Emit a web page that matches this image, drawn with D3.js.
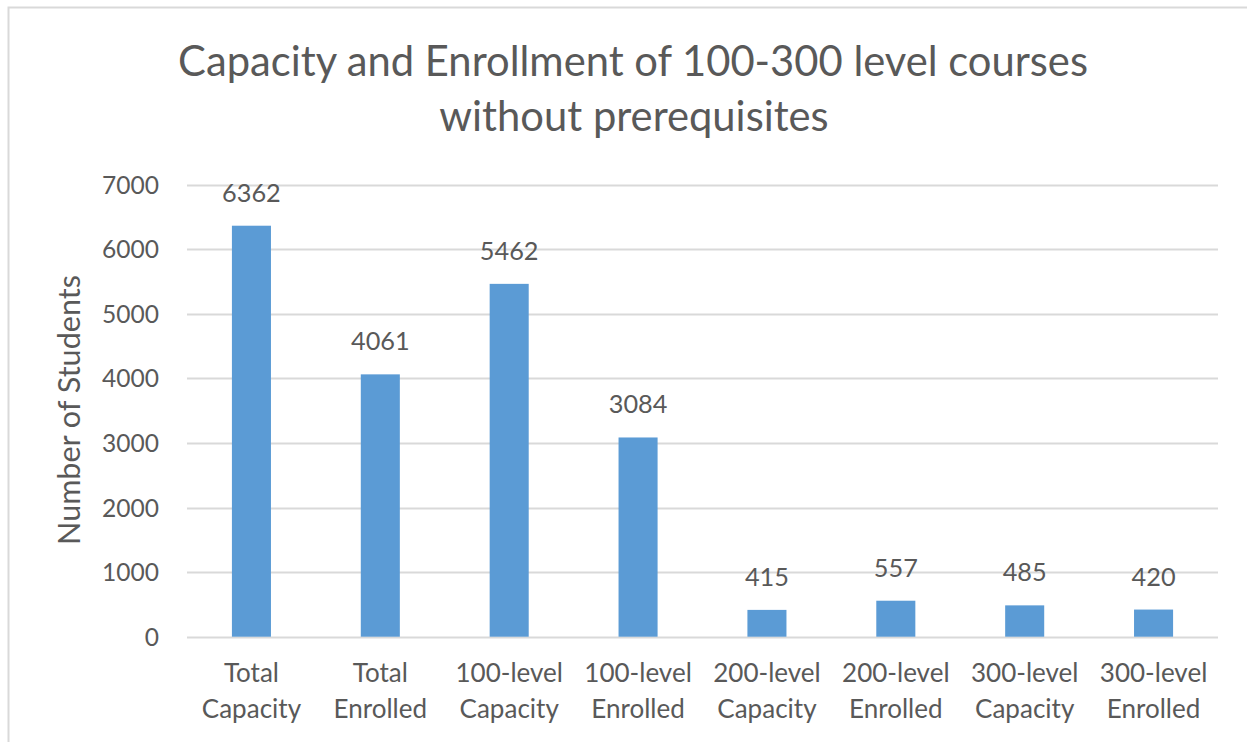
<!DOCTYPE html>
<html><head><meta charset="utf-8">
<script src="https://cdn.jsdelivr.net/npm/d3@7"></script>
<style>body{margin:0;background:#fff}svg{display:block}text{font-family:Lato,"Open Sans",sans-serif;fill:#595959}</style>
</head><body>
<script>
const categories = [["Total","Capacity"],["Total","Enrolled"],["100-level","Capacity"],["100-level","Enrolled"],["200-level","Capacity"],["200-level","Enrolled"],["300-level","Capacity"],["300-level","Enrolled"]];
const values = [6362, 4061, 5462, 3084, 415, 557, 485, 420];
const yTicks = [0, 1000, 2000, 3000, 4000, 5000, 6000, 7000];
const titleLines = ["Capacity and Enrollment of 100-300 level courses", "without prerequisites"];
const yTitle = "Number of Students";

const W = 1247, H = 742;
const svg = d3.select("body").append("svg").attr("width", W).attr("height", H);
svg.append("rect").attr("x", 8.5).attr("y", 7.5).attr("width", 1400).attr("height", 900)
  .attr("fill", "none").attr("stroke", "#d9d9d9").attr("stroke-width", 2);

const x = d3.scaleBand().domain(categories.map((d,i)=>i)).range([187, 1218]).paddingInner(0.697).paddingOuter(0.3485);
const y = d3.scaleLinear().domain([0, 7000]).range([636.7, 184.5]);

function fit(sel, target) {
  const w = sel.node().getComputedTextLength();
  const fs = parseFloat(sel.attr("font-size"));
  sel.attr("font-size", fs * target / w);
}

const grid = svg.append("g");
grid.selectAll("line").data(yTicks).join("line")
  .attr("x1", 187).attr("x2", 1218)
  .attr("y1", d => Math.round(y(d)) + 0.5).attr("y2", d => Math.round(y(d)) + 0.5)
  .attr("stroke", "#d9d9d9").attr("stroke-width", 2);

const yAxis = svg.append("g").attr("transform", "translate(187,0)")
  .call(d3.axisLeft(y).tickValues(yTicks).tickFormat(d3.format("d")).tickSize(0).tickPadding(28));
yAxis.select(".domain").remove();
yAxis.selectAll("text").attr("font-size", 26).attr("fill", "#595959").attr("font-family", "Lato").attr("dy", "0.35em");
const t7 = yAxis.selectAll("text").filter(d => d === 7000);
const w7 = t7.node().getComputedTextLength();
const fsY = 26 * 57 / w7;
yAxis.selectAll("text").attr("font-size", fsY);

svg.append("g").selectAll("rect").data(values).join("rect")
  .attr("x", (d,i) => x(i)).attr("width", x.bandwidth())
  .attr("y", d => y(d)).attr("height", d => y(0) - y(d))
  .attr("fill", "#5b9bd5");

svg.append("g").selectAll("text").data(values).join("text")
  .attr("x", (d,i) => x(i) + x.bandwidth()/2).attr("y", d => y(d) - 24)
  .attr("text-anchor", "middle").attr("font-size", fsY * 1.03).text(d => d);

const cg = svg.append("g");
categories.forEach((c, i) => {
  c.forEach((line, j) => {
    cg.append("text").attr("x", x(i) + x.bandwidth()/2).attr("y", 682 + j*36)
      .attr("text-anchor", "middle").attr("font-size", fsY * 1.06).text(line);
  });
});

const yt = svg.append("text").attr("transform", "translate(80,410) rotate(-90)")
  .attr("text-anchor", "middle").attr("font-size", 24).text(yTitle);
fit(yt, 270);

const t1 = svg.append("text").attr("x", 633).attr("y", 76).attr("text-anchor", "middle").attr("font-size", 36).text(titleLines[0]);
fit(t1, 910);
const fsT = parseFloat(t1.attr("font-size"));
svg.append("text").attr("x", 634).attr("y", 131).attr("text-anchor", "middle").attr("font-size", fsT).text(titleLines[1]);
</script>
</body></html>
